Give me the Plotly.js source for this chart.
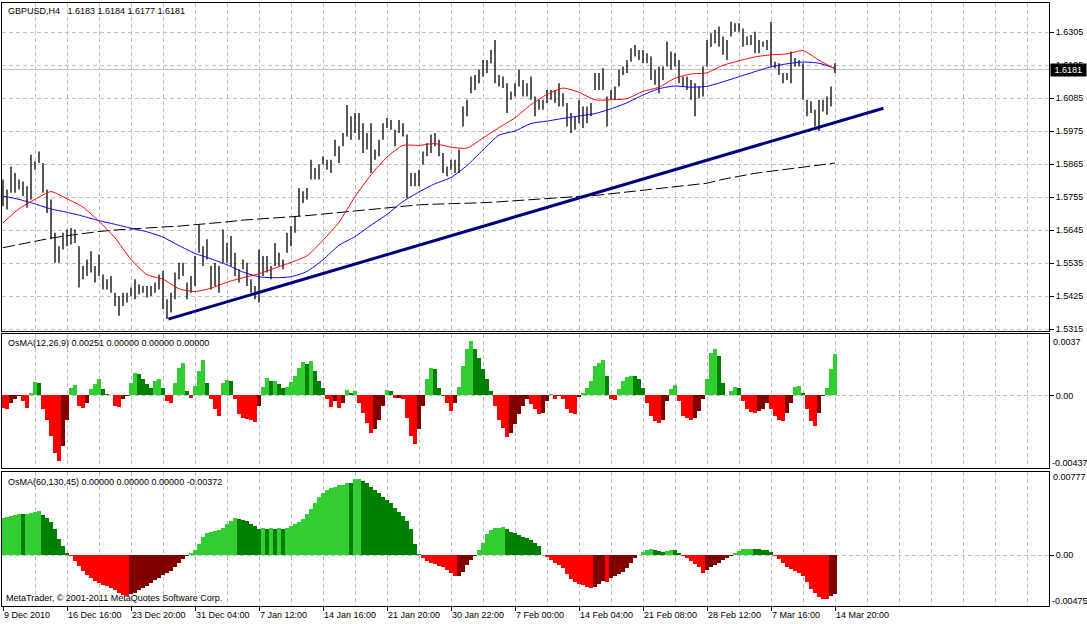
<!DOCTYPE html>
<html><head><meta charset="utf-8">
<script src="https://cdn.plot.ly/plotly-3.0.1.min.js"></script>
<style>html,body{margin:0;padding:0;background:#fff;}#chart{width:1087px;height:624px;}</style>
</head><body><div id="chart"></div>
<script>
// ---- data (one sample every 2 H4 bars) ----
const priceHigh = [
1.5814,1.5781,1.5858,1.5836,1.5814,1.5808,1.5792,1.5897,1.5875,1.5908,
1.5869,1.5781,1.5748,1.5637,1.5592,1.5637,1.5648,1.5653,1.5648,1.5592,
1.5526,1.5548,1.5575,1.5526,1.5564,1.5498,1.5482,1.5493,1.5437,1.5426,
1.5437,1.5437,1.5454,1.5482,1.5465,1.5459,1.5459,1.5459,1.5471,1.5498,
1.5509,1.5415,1.5437,1.5504,1.5537,1.5537,1.5471,1.5493,1.5559,1.5664,
1.5592,1.5615,1.5526,1.5537,1.5526,1.5648,1.5603,1.5626,1.5570,1.5515,
1.5548,1.5537,1.5482,1.5459,1.5581,1.5559,1.5559,1.5526,1.5603,1.5570,
1.5548,1.5637,1.5659,1.5692,1.5786,1.5775,1.5786,1.5880,1.5853,1.5864,
1.5892,1.5880,1.5880,1.5947,1.5925,1.5969,1.6063,1.6025,1.6036,1.6036,
1.6002,1.5969,1.6002,1.5914,1.5947,1.6002,1.6019,1.6013,1.5980,1.6013,
1.6002,1.5964,1.5836,1.5836,1.5847,1.5908,1.5936,1.5964,1.5969,1.5947,
1.5903,1.5858,1.5880,1.5880,1.5914,1.6058,1.6080,1.6158,1.6163,1.6180,
1.6213,1.6213,1.6246,1.6279,1.6163,1.6158,1.6135,1.6108,1.6135,1.6180,
1.6146,1.6135,1.6158,1.6091,1.6080,1.6080,1.6113,1.6113,1.6113,1.6135,
1.6102,1.6069,1.6036,1.6025,1.6080,1.6058,1.6058,1.6069,1.6169,1.6169,
1.6185,1.6091,1.6113,1.6124,1.6180,1.6191,1.6213,1.6252,1.6263,1.6246,
1.6246,1.6235,1.6224,1.6180,1.6191,1.6191,1.6274,1.6241,1.6235,1.6213,
1.6158,1.6158,1.6146,1.6135,1.6124,1.6191,1.6279,1.6302,1.6313,1.6324,
1.6291,1.6279,1.6340,1.6335,1.6335,1.6318,1.6291,1.6296,1.6307,1.6279,
1.6274,1.6279,1.6340,1.6207,1.6202,1.6169,1.6169,1.6241,1.6219,1.6213,
1.6202,1.6080,1.6075,1.6047,1.6080,1.6080,1.6091,1.6124,1.6202];
const priceLow = [
1.5725,1.5714,1.5770,1.5770,1.5781,1.5759,1.5720,1.5748,1.5847,1.5869,
1.5770,1.5703,1.5615,1.5537,1.5537,1.5581,1.5592,1.5598,1.5603,1.5454,
1.5482,1.5493,1.5504,1.5471,1.5493,1.5448,1.5448,1.5437,1.5393,1.5360,
1.5393,1.5404,1.5426,1.5415,1.5432,1.5437,1.5421,1.5426,1.5437,1.5448,
1.5382,1.5349,1.5371,1.5415,1.5482,1.5493,1.5415,1.5437,1.5459,1.5570,
1.5526,1.5548,1.5448,1.5459,1.5437,1.5537,1.5537,1.5526,1.5493,1.5471,
1.5515,1.5459,1.5437,1.5415,1.5404,1.5493,1.5504,1.5482,1.5526,1.5526,
1.5515,1.5570,1.5592,1.5637,1.5692,1.5736,1.5748,1.5814,1.5814,1.5814,
1.5864,1.5847,1.5836,1.5892,1.5869,1.5925,1.5958,1.5947,1.5969,1.5947,
1.5903,1.5914,1.5836,1.5880,1.5892,1.5947,1.5986,1.5980,1.5925,1.5969,
1.5958,1.5753,1.5792,1.5792,1.5792,1.5864,1.5892,1.5903,1.5925,1.5892,
1.5836,1.5825,1.5847,1.5836,1.5836,1.5991,1.6025,1.6102,1.6113,1.6135,
1.6158,1.6169,1.6202,1.6135,1.6124,1.6119,1.6036,1.6080,1.6091,1.6124,
1.6091,1.6091,1.6080,1.6025,1.6047,1.6047,1.6069,1.6080,1.6069,1.6058,
1.6058,1.5991,1.5969,1.5980,1.6002,1.5986,1.6002,1.6025,1.6113,1.6113,
1.6113,1.5991,1.6080,1.6080,1.6124,1.6163,1.6169,1.6207,1.6224,1.6213,
1.6202,1.6202,1.6146,1.6130,1.6102,1.6146,1.6191,1.6180,1.6191,1.6135,
1.6124,1.6113,1.6080,1.6025,1.6085,1.6091,1.6191,1.6257,1.6268,1.6257,
1.6230,1.6213,1.6291,1.6307,1.6307,1.6257,1.6263,1.6263,1.6235,1.6235,
1.6257,1.6246,1.6191,1.6185,1.6163,1.6135,1.6146,1.6135,1.6191,1.6191,
1.6080,1.6025,1.6036,1.5991,1.5975,1.6041,1.6030,1.6058,1.6169];

// moving averages, one value every 8 H4 bars
const maRed = [1.5670,1.5717,1.5748,1.5774,1.5750,1.5722,1.5675,1.5620,1.5548,1.5497,1.5482,1.5450,1.5441,1.5452,1.5472,1.5487,1.5500,1.5519,1.5538,1.5560,1.5612,1.5672,1.5757,1.5830,1.5889,1.5928,1.5928,1.5934,1.5922,1.5919,1.5953,1.5987,1.6020,1.6064,1.6098,1.6119,1.6105,1.6080,1.6080,1.6084,1.6108,1.6122,1.6152,1.6166,1.6170,1.6195,1.6210,1.6223,1.6230,1.6233,1.6244,1.6212,1.6183];
const maBlue = [1.5759,1.5748,1.5733,1.5716,1.5705,1.5692,1.5677,1.5665,1.5652,1.5640,1.5622,1.5594,1.5568,1.5550,1.5530,1.5506,1.5490,1.5487,1.5490,1.5508,1.5547,1.5595,1.5624,1.5662,1.5698,1.5741,1.5773,1.5800,1.5821,1.5861,1.5913,1.5962,1.5976,1.6001,1.6009,1.6018,1.6026,1.6034,1.6050,1.6070,1.6096,1.6117,1.6126,1.6122,1.6125,1.6140,1.6157,1.6174,1.6190,1.6200,1.6206,1.6202,1.6185];
const maBlack = [1.5587,1.5598,1.5609,1.5619,1.5627,1.5635,1.5641,1.5646,1.5650,1.5653,1.5656,1.5659,1.5663,1.5667,1.5673,1.5679,1.5682,1.5686,1.5690,1.5694,1.5699,1.5704,1.5710,1.5716,1.5721,1.5726,1.5730,1.5732,1.5733,1.5735,1.5737,1.5740,1.5744,1.5748,1.5751,1.5754,1.5758,1.5761,1.5767,1.5772,1.5779,1.5786,1.5791,1.5797,1.5802,1.5815,1.5826,1.5835,1.5842,1.5849,1.5856,1.5864,1.5869];

// trend line (bar index, price)
const trendIdx = [82.7, 440.2];
const trendPrice = [1.5349, 1.6052];

// OsMA(12,26,9)
const osma1 = [
-0.00074,-0.00084,-0.00044,-0.00020,-0.00004,-0.00034,-0.00074,0.00016,0.00080,0.00072,
-0.00084,-0.00145,-0.00245,-0.00345,-0.00395,-0.00305,-0.00145,0.00046,0.00060,-0.00064,
-0.00074,-0.00044,0.00036,0.00066,0.00100,0.00036,0.00006,0.00002,-0.00064,-0.00068,
-0.00024,-0.00004,0.00076,0.00136,0.00132,0.00096,0.00066,0.00046,0.00086,0.00096,
0.00046,-0.00034,-0.00048,0.00076,0.00167,0.00197,0.00026,-0.00014,0.00056,0.00147,
0.00213,0.00076,-0.00024,-0.00084,-0.00124,0.00076,0.00092,0.00086,-0.00024,-0.00114,
-0.00134,-0.00140,-0.00148,-0.00160,-0.00064,0.00052,0.00106,0.00086,0.00086,0.00066,
0.00046,0.00052,0.00080,0.00116,0.00167,0.00201,0.00187,0.00207,0.00147,0.00086,
0.00046,-0.00024,-0.00068,-0.00034,-0.00074,-0.00044,0.00032,0.00016,0.00026,-0.00044,
-0.00104,-0.00165,-0.00225,-0.00205,-0.00145,-0.00064,0.00032,0.00026,-0.00016,-0.00014,
-0.00024,-0.00134,-0.00245,-0.00295,-0.00205,-0.00064,0.00096,0.00167,0.00157,0.00046,
-0.00004,-0.00044,-0.00094,-0.00044,0.00052,0.00177,0.00277,0.00327,0.00277,0.00227,
0.00157,0.00096,0.00026,-0.00064,-0.00145,-0.00195,-0.00249,-0.00225,-0.00175,-0.00114,
-0.00064,-0.00024,-0.00054,-0.00084,-0.00114,-0.00104,-0.00034,0.00008,-0.00020,-0.00004,
-0.00024,-0.00084,-0.00104,-0.00114,-0.00012,0.00012,0.00046,0.00086,0.00177,0.00197,
0.00211,0.00116,-0.00024,-0.00028,0.00036,0.00086,0.00112,0.00120,0.00119,0.00096,
0.00046,-0.00044,-0.00124,-0.00155,-0.00169,-0.00145,-0.00034,0.00036,0.00060,-0.00034,
-0.00124,-0.00134,-0.00148,-0.00134,-0.00094,-0.00024,0.00096,0.00257,0.00277,0.00237,
0.00076,0.00004,0.00026,0.00052,0.00046,-0.00034,-0.00084,-0.00100,-0.00104,-0.00094,
-0.00084,-0.00044,-0.00084,-0.00124,-0.00145,-0.00155,-0.00104,-0.00044,0.00052,0.00056,
0.00016,-0.00084,-0.00155,-0.00185,-0.00104,-0.00004,0.00046,0.00157,0.00251];

// OsMA(60,130,45)
const osma2 = [
0.00343,0.00352,0.00367,0.00374,0.00383,0.00380,0.00383,0.00392,0.00405,0.00408,
0.00377,0.00343,0.00311,0.00243,0.00149,0.00081,0.00019,-0.00012,-0.00053,-0.00100,
-0.00146,-0.00184,-0.00215,-0.00240,-0.00262,-0.00277,-0.00290,-0.00308,-0.00324,-0.00349,
-0.00371,-0.00386,-0.00364,-0.00349,-0.00324,-0.00305,-0.00286,-0.00262,-0.00230,-0.00209,
-0.00187,-0.00168,-0.00146,-0.00106,-0.00069,-0.00037,-0.00012,0.00019,0.00050,0.00103,
0.00174,0.00206,0.00218,0.00227,0.00237,0.00258,0.00290,0.00321,0.00343,0.00336,
0.00327,0.00315,0.00290,0.00274,0.00249,0.00252,0.00249,0.00252,0.00249,0.00252,
0.00249,0.00258,0.00274,0.00290,0.00311,0.00336,0.00383,0.00436,0.00492,0.00539,
0.00579,0.00607,0.00629,0.00641,0.00651,0.00660,0.00673,0.00670,0.00710,0.00716,
0.00694,0.00670,0.00641,0.00610,0.00585,0.00548,0.00517,0.00486,0.00445,0.00405,
0.00367,0.00321,0.00243,0.00103,0.00009,-0.00031,-0.00053,-0.00069,-0.00084,-0.00100,
-0.00115,-0.00140,-0.00168,-0.00199,-0.00198,-0.00156,-0.00093,-0.00044,-0.00006,0.00050,
0.00118,0.00196,0.00237,0.00252,0.00258,0.00262,0.00243,0.00218,0.00206,0.00190,
0.00174,0.00162,0.00143,0.00118,0.00081,0.00003,-0.00016,-0.00044,-0.00069,-0.00093,
-0.00121,-0.00174,-0.00224,-0.00249,-0.00268,-0.00283,-0.00296,-0.00308,-0.00293,-0.00268,
-0.00243,-0.00248,-0.00212,-0.00193,-0.00177,-0.00153,-0.00121,-0.00075,-0.00031,0.00006,
0.00028,0.00050,0.00056,0.00050,0.00037,0.00031,0.00040,0.00047,0.00044,0.00019,
-0.00006,-0.00025,-0.00053,-0.00081,-0.00115,-0.00162,-0.00134,-0.00112,-0.00093,-0.00069,
-0.00044,-0.00031,-0.00009,0.00019,0.00040,0.00053,0.00056,0.00059,0.00056,0.00053,
0.00050,0.00044,0.00025,-0.00012,-0.00037,-0.00075,-0.00106,-0.00131,-0.00149,-0.00168,
-0.00193,-0.00255,-0.00318,-0.00358,-0.00389,-0.00408,-0.00414,-0.00386,-0.00367];

const priceTicks = [1.5315,1.5425,1.5535,1.5645,1.5755,1.5865,1.5975,1.6085,1.6195,1.6305];
const dateLabels = ["9 Dec 2010","16 Dec 16:00","23 Dec 20:00","31 Dec 04:00","7 Jan 12:00","14 Jan 16:00","21 Jan 20:00","30 Jan 22:00","7 Feb 00:00","14 Feb 04:00","21 Feb 08:00","28 Feb 12:00","7 Mar 16:00","14 Mar 20:00"];
const lastPrice = 1.6181;
const titleText = "GBPUSD,H4\u00a0\u00a0 1.6183 1.6184 1.6177 1.6181";
const osma1Text = "OsMA(12,26,9) 0.00251 0.00000 0.00000 0.00000";
const osma2Text = "OsMA(60,130,45) 0.00000 0.00000 0.00000 -0.00372";
const osma1Range = [-0.00437, 0.0037];
const osma2Range = [-0.00475, 0.00777];
const copyrightText = "MetaTrader, \u00a9 2001-2011 MetaQuotes Software Corp.";

// ---- build ----
const BAR_STEP = 2, MA_STEP = 8, LABEL_STEP = 32, GRID_STEP = 16;
const barIdx = priceHigh.map((_, k) => k * BAR_STEP);
const maIdx = maRed.map((_, j) => j * MA_STEP);
const labelIdx = dateLabels.map((_, j) => j * LABEL_STEP);
const gridIdx = []; for (let g = 0; g <= 528; g += GRID_STEP) gridIdx.push(g);

const bx = [], by = [];
barIdx.forEach((x, k) => { bx.push(x, x, null); by.push(priceLow[k], priceHigh[k], null); });

function histColors(v) {
  return v.map((val, i) => {
    const prev = i > 0 ? v[i - 1] : val;
    if (val >= 0) return val >= prev ? '#32CD32' : '#008000';
    return val <= prev ? '#FF0000' : '#800000';
  });
}

const FONT = {family: 'Liberation Sans, Arial, sans-serif', size: 9, color: '#000'};
const GRID = '#C0C0C0';
const DASH = '4px,3px';

const traces = [
  {type:'scatter', mode:'lines', x:bx, y:by, line:{color:'#000', width:1.3}, connectgaps:false, hoverinfo:'skip', xaxis:'x', yaxis:'y'},
  {type:'scatter', mode:'lines', x:maIdx, y:maBlack, line:{color:'#000', width:1, dash:'12px,4px'}, hoverinfo:'skip', xaxis:'x', yaxis:'y'},
  {type:'scatter', mode:'lines', x:maIdx, y:maBlue, line:{color:'#0000FF', width:1, shape:'spline', smoothing:0.6}, hoverinfo:'skip', xaxis:'x', yaxis:'y'},
  {type:'scatter', mode:'lines', x:maIdx, y:maRed, line:{color:'#FF0000', width:1, shape:'spline', smoothing:0.6}, hoverinfo:'skip', xaxis:'x', yaxis:'y'},
  {type:'scatter', mode:'lines', x:trendIdx, y:trendPrice, line:{color:'#000080', width:3}, hoverinfo:'skip', xaxis:'x', yaxis:'y'},
  {type:'bar', x:barIdx, y:osma1, width:BAR_STEP, marker:{color:histColors(osma1), line:{width:0}}, hoverinfo:'skip', xaxis:'x2', yaxis:'y2'},
  {type:'bar', x:barIdx, y:osma2, width:BAR_STEP, marker:{color:histColors(osma2), line:{width:0}}, hoverinfo:'skip', xaxis:'x3', yaxis:'y3'}
];

function xAxis(anchor, labels) {
  const a = {
    anchor: anchor, range: [-0.5, 523], showline: true, mirror: true, linecolor: '#000', linewidth: 1,
    zeroline: false, tickmode: 'array', tickvals: labelIdx, ticktext: dateLabels,
    showgrid: true, gridcolor: GRID, griddash: DASH, gridwidth: 1,
    minor: {tickmode: 'array', tickvals: gridIdx, showgrid: true, gridcolor: GRID, griddash: DASH, gridwidth: 1, ticks: ''},
    showticklabels: labels, ticks: labels ? 'outside' : '', ticklen: 4, tickcolor: '#000', tickwidth: 1,
    fixedrange: true
  };
  if (labels) a.ticklabelposition = 'outside right';
  if (anchor !== 'y') a.matches = 'x';
  return a;
}
function yAxis(domain, range, tickvals, ticktext) {
  return {
    domain: domain, range: range, side: 'right', showline: true, mirror: true, linecolor: '#000', linewidth: 1,
    zeroline: false, tickmode: 'array', tickvals: tickvals, ticktext: ticktext,
    showgrid: true, gridcolor: GRID, griddash: DASH, gridwidth: 1,
    ticks: 'outside', ticklen: 4, tickcolor: '#000', tickwidth: 1, fixedrange: true
  };
}

function ann(text, xref, x, xanchor, xshift, yref, y, yshift, extra) {
  return Object.assign({text: text, showarrow: false, xref: xref, x: x, xanchor: xanchor, xshift: xshift,
    yref: yref, y: y, yanchor: 'middle', yshift: yshift, font: FONT}, extra || {});
}

const layout = {
  width: 1087, height: 624,
  margin: {l: 2, r: 38, t: 3, b: 18, autoexpand: false},
  paper_bgcolor: '#fff', plot_bgcolor: '#fff', showlegend: false, font: FONT, bargap: 0,
  xaxis: xAxis('y', false),
  xaxis2: xAxis('y2', false),
  xaxis3: xAxis('y3', true),
  yaxis: yAxis([0.45605, 1], [1.53093, 1.64027], priceTicks, priceTicks.map(v => v.toFixed(4))),
  yaxis2: yAxis([0.22886, 0.45108], osma1Range, [0], ['0.00']),
  yaxis3: yAxis([0, 0.22222], osma2Range, [0], ['0.00']),
  shapes: [
    {type: 'line', xref: 'x domain', x0: 0, x1: 1, yref: 'y', y0: lastPrice, y1: lastPrice, line: {color: GRID, width: 1}, layer: 'below'}
  ],
  annotations: [
    ann(titleText, 'paper', 0, 'left', 4, 'paper', 1, -8),
    ann(osma1Text, 'paper', 0, 'left', 4, 'y2 domain', 1, -9),
    ann(osma2Text, 'paper', 0, 'left', 4, 'y3 domain', 1, -10),
    ann(copyrightText, 'paper', 0, 'left', 2, 'y3 domain', 0, 8),
    ann(osma1Range[1].toString(), 'paper', 1, 'left', 2, 'y2 domain', 1, -8),
    ann(osma1Range[0].toString(), 'paper', 1, 'left', 1, 'y2 domain', 0, 5),
    ann(osma2Range[1].toString(), 'paper', 1, 'left', 2, 'y3 domain', 1, -5),
    ann(osma2Range[0].toString(), 'paper', 1, 'left', 1, 'y3 domain', 0, 5),
    ann('\u00a0' + lastPrice.toFixed(4) + '\u00a0', 'paper', 1, 'left', 1, 'y', lastPrice, 0,
        {bgcolor: '#000', borderpad: 1, font: {family: FONT.family, size: 9, color: '#fff'}})
  ]
};

Plotly.newPlot('chart', traces, layout, {staticPlot: true, displayModeBar: false});
</script>
</body></html>
